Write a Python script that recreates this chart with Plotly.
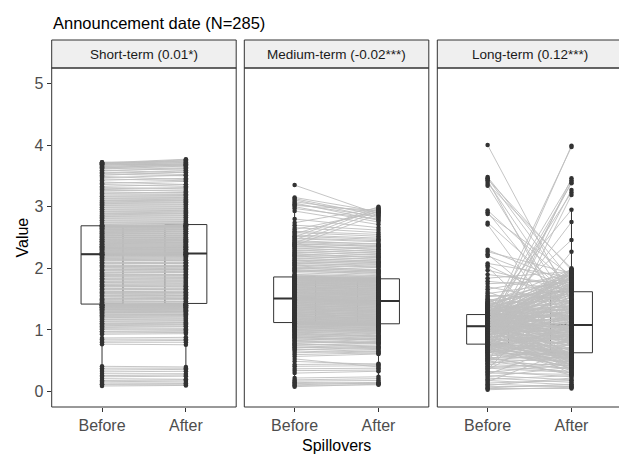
import numpy as np
import plotly.graph_objects as go

# ---------------------------------------------------------------------------
# Data: paired observations (same firm, before vs. after the announcement)
# ---------------------------------------------------------------------------
facet_labels = ["Short-term (0.01*)", "Medium-term (-0.02***)", "Long-term (0.12***)"]
period_labels = ["Before", "After"]
y_ticks = [0, 1, 2, 3, 4, 5]

short_before = [
    0.09, 0.11, 0.12, 0.14, 0.16, 0.18, 0.21, 0.24, 0.26, 0.29,
    0.32, 0.35, 0.38, 0.41, 0.77, 0.80, 0.82, 0.85, 0.87, 0.93,
    0.95, 0.97, 0.98, 1.01, 1.02, 1.04, 1.06, 1.07, 1.09, 1.10,
    1.11, 1.13, 1.14, 1.16, 1.17, 1.18, 1.20, 1.21, 1.22, 1.23,
    1.24, 1.25, 1.27, 1.28, 1.28, 1.29, 1.30, 1.31, 1.32, 1.33,
    1.33, 1.34, 1.34, 1.35, 1.36, 1.36, 1.37, 1.37, 1.38, 1.38,
    1.39, 1.39, 1.40, 1.40, 1.40, 1.41, 1.41, 1.41, 1.41, 1.42,
    1.42, 1.42, 1.44, 1.45, 1.46, 1.48, 1.49, 1.50, 1.51, 1.52,
    1.54, 1.55, 1.56, 1.57, 1.59, 1.60, 1.61, 1.62, 1.63, 1.65,
    1.66, 1.67, 1.68, 1.70, 1.71, 1.72, 1.73, 1.74, 1.76, 1.77,
    1.78, 1.79, 1.81, 1.82, 1.83, 1.84, 1.86, 1.87, 1.88, 1.89,
    1.90, 1.92, 1.93, 1.94, 1.96, 1.97, 1.98, 1.99, 2.01, 2.02,
    2.03, 2.04, 2.05, 2.07, 2.08, 2.09, 2.10, 2.12, 2.13, 2.14,
    2.15, 2.16, 2.17, 2.18, 2.19, 2.20, 2.21, 2.21, 2.22, 2.22,
    2.23, 2.23, 2.23, 2.24, 2.24, 2.25, 2.26, 2.26, 2.27, 2.28,
    2.28, 2.29, 2.30, 2.30, 2.31, 2.32, 2.32, 2.33, 2.34, 2.34,
    2.35, 2.36, 2.36, 2.37, 2.38, 2.39, 2.39, 2.40, 2.41, 2.41,
    2.42, 2.43, 2.44, 2.44, 2.45, 2.46, 2.47, 2.47, 2.48, 2.49,
    2.50, 2.50, 2.51, 2.52, 2.53, 2.53, 2.54, 2.55, 2.56, 2.56,
    2.57, 2.58, 2.59, 2.59, 2.60, 2.61, 2.62, 2.62, 2.63, 2.64,
    2.64, 2.65, 2.66, 2.66, 2.67, 2.67, 2.68, 2.68, 2.69, 2.69,
    2.69, 2.69, 2.69, 2.69, 2.71, 2.72, 2.74, 2.75, 2.77, 2.78,
    2.80, 2.81, 2.83, 2.84, 2.86, 2.87, 2.89, 2.90, 2.92, 2.93,
    2.95, 2.96, 2.98, 2.99, 3.01, 3.02, 3.04, 3.05, 3.07, 3.08,
    3.10, 3.11, 3.13, 3.14, 3.16, 3.17, 3.19, 3.21, 3.22, 3.24,
    3.26, 3.28, 3.29, 3.31, 3.33, 3.36, 3.38, 3.40, 3.43, 3.45,
    3.47, 3.49, 3.51, 3.53, 3.54, 3.56, 3.58, 3.59, 3.61, 3.62,
    3.63, 3.64, 3.65, 3.66, 3.67, 3.68, 3.69, 3.69, 3.70, 3.70,
    3.70, 3.71, 3.71, 3.72, 3.72,
]

short_after = [
    0.10, 0.11, 0.13, 0.14, 0.17, 0.19, 0.20, 0.25, 0.27, 0.29,
    0.33, 0.36, 0.38, 0.40, 0.76, 0.80, 0.83, 0.85, 0.88, 0.94,
    0.96, 0.97, 0.99, 1.02, 1.01, 1.05, 1.06, 1.08, 1.09, 1.11,
    1.12, 1.13, 1.15, 1.16, 1.18, 1.18, 1.21, 1.21, 1.23, 1.23,
    1.25, 1.25, 1.27, 1.29, 1.28, 1.30, 1.30, 1.32, 1.32, 1.34,
    1.33, 1.35, 1.34, 1.36, 1.36, 1.37, 1.37, 1.38, 1.38, 1.39,
    1.39, 1.40, 1.40, 1.41, 1.40, 1.42, 1.41, 1.42, 1.41, 1.43,
    1.42, 1.43, 1.44, 1.46, 1.46, 1.49, 1.49, 1.51, 1.51, 1.53,
    1.54, 1.56, 1.56, 1.58, 1.59, 1.61, 1.61, 1.63, 1.63, 1.66,
    1.66, 1.68, 1.68, 1.71, 1.71, 1.73, 1.73, 1.75, 1.76, 1.78,
    1.78, 1.80, 1.81, 1.83, 1.83, 1.85, 1.86, 1.88, 1.88, 1.90,
    1.90, 1.93, 1.93, 1.95, 1.96, 1.98, 1.98, 2.00, 2.01, 2.03,
    2.03, 2.05, 2.05, 2.08, 2.08, 2.10, 2.10, 2.13, 2.13, 2.15,
    2.15, 2.17, 2.17, 2.19, 2.19, 2.21, 2.21, 2.22, 2.22, 2.23,
    2.23, 2.24, 2.23, 2.25, 2.24, 2.26, 2.26, 2.27, 2.27, 2.29,
    2.28, 2.30, 2.30, 2.31, 2.31, 2.33, 2.32, 2.34, 2.34, 2.35,
    2.35, 2.37, 2.36, 2.38, 2.38, 2.40, 2.39, 2.41, 2.41, 2.42,
    2.42, 2.44, 2.44, 2.45, 2.45, 2.47, 2.47, 2.48, 2.48, 2.50,
    2.50, 2.51, 2.51, 2.53, 2.53, 2.54, 2.54, 2.56, 2.56, 2.57,
    2.57, 2.59, 2.59, 2.60, 2.60, 2.62, 2.62, 2.63, 2.63, 2.65,
    2.64, 2.66, 2.66, 2.67, 2.67, 2.68, 2.68, 2.69, 2.69, 2.70,
    2.69, 2.70, 2.69, 2.71, 2.72, 2.73, 2.74, 2.76, 2.77, 2.79,
    2.80, 2.82, 2.83, 2.85, 2.86, 2.88, 2.89, 2.91, 2.92, 2.94,
    2.95, 2.97, 2.98, 3.00, 3.01, 3.03, 3.04, 3.06, 3.07, 3.09,
    3.10, 3.12, 3.13, 3.15, 3.16, 3.18, 3.19, 3.20, 3.23, 3.22,
    3.27, 3.25, 3.31, 3.29, 3.36, 3.33, 3.41, 3.36, 3.46, 3.42,
    3.51, 3.44, 3.56, 3.50, 3.58, 3.52, 3.62, 3.55, 3.66, 3.59,
    3.68, 3.61, 3.70, 3.64, 3.72, 3.66, 3.74, 3.68, 3.75, 3.67,
    3.76, 3.69, 3.77, 3.71, 3.73,
]

medium_before = [
    0.08, 0.10, 0.11, 0.13, 0.15, 0.17, 0.19, 0.22, 0.30, 0.34,
    0.37, 0.41, 0.44, 0.49, 0.53, 0.57, 0.60, 0.63, 0.66, 0.68,
    0.69, 0.71, 0.72, 0.74, 0.75, 0.77, 0.78, 0.79, 0.81, 0.82,
    0.83, 0.84, 0.86, 0.87, 0.88, 0.89, 0.90, 0.91, 0.92, 0.93,
    0.94, 0.95, 0.96, 0.97, 0.98, 0.99, 1.00, 1.00, 1.01, 1.02,
    1.03, 1.04, 1.04, 1.05, 1.06, 1.06, 1.07, 1.08, 1.08, 1.09,
    1.09, 1.10, 1.10, 1.10, 1.11, 1.11, 1.11, 1.12, 1.12, 1.12,
    1.12, 1.12, 1.12, 1.13, 1.14, 1.14, 1.15, 1.15, 1.16, 1.17,
    1.17, 1.18, 1.18, 1.19, 1.20, 1.20, 1.21, 1.22, 1.22, 1.23,
    1.23, 1.24, 1.25, 1.25, 1.26, 1.26, 1.27, 1.28, 1.28, 1.29,
    1.29, 1.30, 1.31, 1.31, 1.32, 1.33, 1.33, 1.34, 1.34, 1.35,
    1.36, 1.36, 1.37, 1.37, 1.38, 1.39, 1.39, 1.40, 1.40, 1.41,
    1.42, 1.42, 1.43, 1.43, 1.44, 1.45, 1.45, 1.46, 1.46, 1.47,
    1.48, 1.48, 1.49, 1.49, 1.50, 1.50, 1.50, 1.51, 1.51, 1.51,
    1.51, 1.51, 1.51, 1.52, 1.52, 1.53, 1.53, 1.54, 1.54, 1.55,
    1.55, 1.56, 1.56, 1.57, 1.57, 1.58, 1.59, 1.59, 1.60, 1.60,
    1.61, 1.61, 1.62, 1.62, 1.63, 1.64, 1.64, 1.65, 1.65, 1.66,
    1.66, 1.67, 1.68, 1.68, 1.69, 1.69, 1.70, 1.70, 1.71, 1.72,
    1.72, 1.73, 1.73, 1.74, 1.74, 1.75, 1.76, 1.76, 1.77, 1.77,
    1.78, 1.78, 1.79, 1.80, 1.80, 1.81, 1.81, 1.82, 1.82, 1.83,
    1.83, 1.84, 1.84, 1.85, 1.85, 1.85, 1.86, 1.86, 1.86, 1.86,
    1.86, 1.86, 1.86, 1.86, 1.86, 1.86, 1.87, 1.88, 1.89, 1.90,
    1.93, 1.95, 1.96, 1.97, 1.98, 2.00, 2.01, 2.02, 2.04, 2.05,
    2.06, 2.08, 2.09, 2.10, 2.12, 2.13, 2.14, 2.16, 2.17, 2.19,
    2.20, 2.21, 2.23, 2.24, 2.26, 2.27, 2.29, 2.30, 2.32, 2.33,
    2.35, 2.36, 2.37, 2.38, 2.39, 2.40, 2.41, 2.42, 2.43, 2.45,
    2.46, 2.48, 2.49, 2.51, 2.52, 2.54, 2.56, 2.58, 2.60, 2.63,
    2.66, 2.70, 2.74, 2.80, 2.93, 2.97, 3.00, 3.02, 3.04, 3.06,
    3.08, 3.11, 3.13, 3.15, 3.35,
]

medium_after = [
    0.12, 0.11, 0.14, 0.15, 0.13, 0.18, 0.21, 0.24, 0.33, 0.35,
    0.38, 0.42, 0.45, 0.44, 0.40, 0.61, 0.63, 0.66, 0.62, 0.70,
    0.65, 0.73, 0.68, 0.71, 0.78, 0.74, 0.72, 0.80, 0.77, 0.79,
    0.80, 0.86, 0.81, 0.84, 0.85, 0.83, 0.88, 0.86, 0.89, 0.90,
    0.91, 0.90, 0.94, 0.92, 0.95, 0.96, 0.97, 0.99, 0.98, 1.00,
    1.01, 1.00, 1.03, 1.02, 1.04, 1.05, 1.03, 1.06, 1.07, 1.06,
    1.08, 1.07, 1.09, 1.08, 1.10, 1.09, 1.08, 1.10, 1.09, 1.11,
    1.10, 1.08, 1.11, 1.09, 1.12, 1.10, 1.13, 1.11, 1.12, 1.14,
    1.13, 1.15, 1.14, 1.16, 1.15, 1.17, 1.18, 1.17, 1.19, 1.18,
    1.20, 1.19, 1.21, 1.22, 1.21, 1.23, 1.22, 1.24, 1.25, 1.24,
    1.26, 1.25, 1.27, 1.28, 1.27, 1.29, 1.30, 1.29, 1.31, 1.30,
    1.32, 1.31, 1.33, 1.34, 1.33, 1.35, 1.36, 1.35, 1.37, 1.36,
    1.38, 1.39, 1.38, 1.40, 1.41, 1.40, 1.42, 1.41, 1.43, 1.44,
    1.42, 1.43, 1.44, 1.43, 1.45, 1.44, 1.45, 1.46, 1.45, 1.46,
    1.47, 1.45, 1.48, 1.46, 1.49, 1.47, 1.50, 1.48, 1.51, 1.50,
    1.52, 1.51, 1.53, 1.54, 1.52, 1.55, 1.56, 1.54, 1.57, 1.56,
    1.58, 1.57, 1.59, 1.60, 1.58, 1.61, 1.60, 1.62, 1.63, 1.61,
    1.64, 1.63, 1.65, 1.66, 1.64, 1.67, 1.66, 1.68, 1.67, 1.69,
    1.70, 1.69, 1.71, 1.70, 1.72, 1.73, 1.72, 1.74, 1.73, 1.75,
    1.76, 1.74, 1.77, 1.76, 1.78, 1.77, 1.79, 1.78, 1.80, 1.79,
    1.79, 1.80, 1.78, 1.81, 1.80, 1.79, 1.81, 1.80, 1.82, 1.81,
    1.82, 1.81, 1.83, 1.82, 1.84, 1.83, 1.85, 1.84, 1.86, 1.87,
    1.88, 1.92, 1.90, 1.94, 1.93, 1.96, 1.95, 1.98, 1.97, 2.01,
    2.02, 2.05, 2.03, 2.08, 2.06, 2.10, 2.09, 2.12, 2.11, 2.15,
    2.14, 2.18, 2.19, 2.17, 2.22, 2.21, 2.25, 2.24, 2.28, 2.27,
    2.31, 2.33, 2.88, 2.30, 2.36, 2.35, 2.93, 2.37, 2.40, 2.39,
    2.97, 2.43, 2.45, 3.00, 2.47, 2.49, 2.95, 2.52, 2.55, 2.91,
    2.58, 2.62, 2.98, 2.66, 2.71, 2.80, 2.75, 2.94, 2.84, 2.78,
    2.90, 2.82, 2.86, 2.92, 2.88,
]

long_before = [
    0.03, 0.05, 0.06, 0.08, 0.10, 0.12, 0.14, 0.16, 0.18, 0.20,
    0.22, 0.24, 0.26, 0.28, 0.30, 0.31, 0.33, 0.35, 0.36, 0.38,
    0.39, 0.41, 0.42, 0.44, 0.45, 0.46, 0.48, 0.49, 0.50, 0.51,
    0.52, 0.53, 0.54, 0.55, 0.56, 0.57, 0.58, 0.59, 0.60, 0.61,
    0.62, 0.63, 0.64, 0.64, 0.65, 0.66, 0.67, 0.67, 0.68, 0.69,
    0.69, 0.70, 0.71, 0.71, 0.72, 0.72, 0.73, 0.73, 0.74, 0.74,
    0.75, 0.75, 0.75, 0.76, 0.76, 0.76, 0.77, 0.77, 0.77, 0.77,
    0.77, 0.77, 0.78, 0.78, 0.79, 0.80, 0.80, 0.81, 0.82, 0.82,
    0.83, 0.84, 0.84, 0.85, 0.86, 0.86, 0.87, 0.88, 0.88, 0.89,
    0.90, 0.90, 0.91, 0.91, 0.92, 0.93, 0.93, 0.94, 0.94, 0.95,
    0.95, 0.96, 0.96, 0.97, 0.97, 0.98, 0.98, 0.99, 0.99, 1.00,
    1.00, 1.00, 1.01, 1.01, 1.01, 1.02, 1.02, 1.02, 1.03, 1.03,
    1.03, 1.03, 1.04, 1.04, 1.04, 1.04, 1.04, 1.05, 1.05, 1.05,
    1.05, 1.05, 1.05, 1.05, 1.05, 1.05, 1.06, 1.06, 1.06, 1.06,
    1.06, 1.06, 1.06, 1.07, 1.07, 1.07, 1.07, 1.08, 1.08, 1.08,
    1.08, 1.09, 1.09, 1.09, 1.10, 1.10, 1.10, 1.11, 1.11, 1.11,
    1.12, 1.12, 1.12, 1.13, 1.13, 1.13, 1.14, 1.14, 1.14, 1.15,
    1.15, 1.15, 1.16, 1.16, 1.16, 1.17, 1.17, 1.17, 1.18, 1.18,
    1.18, 1.19, 1.19, 1.19, 1.20, 1.20, 1.20, 1.21, 1.21, 1.21,
    1.22, 1.22, 1.22, 1.22, 1.23, 1.23, 1.23, 1.23, 1.23, 1.24,
    1.24, 1.24, 1.24, 1.24, 1.24, 1.24, 1.25, 1.25, 1.25, 1.25,
    1.25, 1.25, 1.25, 1.25, 1.26, 1.26, 1.27, 1.27, 1.28, 1.28,
    1.29, 1.29, 1.30, 1.30, 1.31, 1.31, 1.32, 1.32, 1.33, 1.33,
    1.34, 1.34, 1.35, 1.35, 1.36, 1.36, 1.37, 1.38, 1.38, 1.39,
    1.39, 1.40, 1.41, 1.41, 1.42, 1.43, 1.43, 1.44, 1.45, 1.46,
    1.47, 1.49, 1.50, 1.52, 1.54, 1.56, 1.59, 1.62, 1.66, 1.70,
    1.75, 1.79, 1.84, 1.90, 1.97, 2.02, 2.05, 2.08, 2.20, 2.23,
    2.27, 2.30, 2.71, 2.74, 2.88, 2.91, 2.94, 3.34, 3.37, 3.40,
    3.43, 3.45, 3.46, 3.48, 4.00,
]

long_after = [
    0.07, 0.05, 0.12, 0.09, 0.22, 0.08, 0.18, 0.68, 0.11, 0.26,
    0.15, 0.40, 0.19, 0.78, 0.28, 0.44, 0.24, 1.12, 1.72, 0.31,
    0.46, 0.33, 0.88, 0.38, 3.19, 0.57, 0.42, 1.15, 0.30, 0.61,
    0.49, 0.72, 0.36, 0.55, 0.95, 0.27, 3.46, 0.62, 0.48, 1.30,
    2.27, 0.58, 0.41, 0.83, 0.53, 0.60, 1.04, 0.45, 0.66, 0.39,
    0.56, 3.27, 0.50, 0.69, 1.42, 0.34, 0.91, 0.59, 0.47, 0.75,
    0.62, 0.81, 1.22, 0.43, 0.98, 0.54, 1.55, 0.61, 0.70, 0.37,
    0.64, 1.68, 0.52, 0.86, 1.25, 0.63, 3.40, 0.90, 0.44, 1.48,
    0.93, 0.58, 1.36, 0.79, 1.88, 0.71, 0.40, 1.09, 0.97, 0.57,
    1.50, 0.84, 0.60, 1.63, 3.99, 0.76, 1.02, 0.29, 1.19, 0.88,
    0.67, 2.75, 1.31, 0.51, 0.99, 1.84, 0.74, 1.46, 0.56, 1.05,
    1.92, 0.82, 0.47, 1.13, 0.95, 1.71, 0.61, 1.58, 1.17, 3.38,
    0.89, 1.40, 0.55, 1.96, 0.78, 1.08, 0.35, 1.65, 1.01, 0.92,
    0.73, 1.22, 0.49, 1.75, 0.96, 0.62, 1.54, 0.85, 1.99, 0.43,
    1.12, 0.74, 1.66, 0.95, 1.31, 0.48, 1.83, 1.05, 1.20, 0.87,
    1.44, 3.97, 0.98, 1.27, 1.74, 0.66, 1.10, 1.90, 0.81, 1.37,
    0.58, 1.18, 1.62, 1.03, 1.49, 3.23, 0.90, 1.29, 1.77, 0.50,
    1.86, 0.77, 1.24, 3.43, 1.14, 0.94, 1.69, 1.35, 0.42, 1.57,
    1.01, 1.93, 1.16, 0.68, 1.52, 1.80, 0.53, 1.26, 0.86, 2.46,
    1.33, 0.92, 1.71, 1.21, 0.61, 1.06, 1.64, 1.41, 0.79, 1.97,
    0.97, 1.60, 1.23, 0.45, 1.87, 1.11, 0.83, 1.39, 1.68, 1.02,
    1.18, 1.72, 0.91, 1.34, 1.85, 1.29, 0.60, 1.63, 1.47, 0.87,
    1.76, 1.39, 1.04, 1.91, 1.27, 2.95, 1.56, 0.80, 1.69, 1.20,
    1.32, 0.88, 1.79, 1.43, 1.65, 0.52, 1.94, 0.97, 1.36, 1.82,
    1.58, 1.89, 0.99, 1.30, 1.73, 1.48, 0.76, 1.98, 1.21, 1.67,
    1.83, 0.94, 1.35, 0.57, 1.63, 1.51, 1.78, 1.12, 1.90, 1.44,
    1.81, 1.66, 1.95, 1.73, 1.64, 0.72, 1.40, 1.85, 1.68, 1.10,
    1.92, 1.75, 0.85, 1.52, 1.88, 1.25, 1.70, 1.15, 2.00, 1.38,
    0.95, 1.97, 1.62, 1.80, 1.45,
]

facets = [
    (short_before, short_after),
    (medium_before, medium_after),
    (long_before, long_after),
]

# ---------------------------------------------------------------------------
# Page geometry (pixels)
# ---------------------------------------------------------------------------
W, H = 619, 454
FONT = "Liberation Sans, Arial, Helvetica, sans-serif"
DARK = "#333333"
TICK_TEXT = "#4D4D4D"

PANEL_LEFT = [51.7, 244.3, 437.3]
PANEL_W = 184.5
PANEL_TOP, PANEL_BOTTOM = 68.0, 407.0
STRIP_TOP = 40.0
X_RANGE = (0.4, 2.6)
Y_RANGE = (-0.25, 5.25)
BOX_WIDTH = 0.5


def fx(px):
    return px / W


def fy(py):
    return 1 - py / H


def box_stats(values):
    """Quartiles and Tukey whisker ends (1.5 x IQR rule)."""
    v = np.asarray(values, dtype=float)
    q1, med, q3 = np.percentile(v, [25, 50, 75])
    iqr = q3 - q1
    lo = v[v >= q1 - 1.5 * iqr].min()
    hi = v[v <= q3 + 1.5 * iqr].max()
    return q1, med, q3, lo, hi


fig = go.Figure()
axes = {}
shapes = []
annotations = []
units_per_px = (X_RANGE[1] - X_RANGE[0]) / PANEL_W

for i, (label, (before, after)) in enumerate(zip(facet_labels, facets)):
    k = "" if i == 0 else str(i + 1)
    xa, ya = "x" + k, "y" + k
    left = PANEL_LEFT[i]
    right_full = left + PANEL_W
    right = min(right_full, W)
    x_hi = X_RANGE[0] + (right - left) * units_per_px

    axes["xaxis" + k] = dict(
        domain=[fx(left), fx(right)], range=[X_RANGE[0], x_hi], anchor=ya,
        tickmode="array", tickvals=[1, 2], ticktext=period_labels,
        ticks="outside", ticklen=4, tickwidth=1, tickcolor=DARK,
        tickfont=dict(family=FONT, size=16, color=TICK_TEXT),
        showgrid=False, zeroline=False, showline=False, fixedrange=True,
    )
    axes["yaxis" + k] = dict(
        domain=[fy(PANEL_BOTTOM), fy(PANEL_TOP)], range=list(Y_RANGE), anchor=xa,
        tickmode="array", tickvals=y_ticks,
        ticks="outside" if i == 0 else "", ticklen=4, tickwidth=1, tickcolor=DARK,
        showticklabels=(i == 0),
        tickfont=dict(family=FONT, size=16, color=TICK_TEXT),
        showgrid=False, zeroline=False, showline=False, fixedrange=True,
    )

    # boxplots sit underneath the paired lines
    for pos, vals in ((1, before), (2, after)):
        q1, med, q3, lo, hi = box_stats(vals)
        fig.add_trace(go.Box(
            x=[pos], q1=[q1], median=[med], q3=[q3],
            lowerfence=[lo], upperfence=[hi],
            width=BOX_WIDTH, whiskerwidth=0, boxpoints=False,
            fillcolor="white", line=dict(color=DARK, width=1),
            xaxis=xa, yaxis=ya, showlegend=False, hoverinfo="skip",
        ))
        fig.add_trace(go.Scatter(
            x=[pos - BOX_WIDTH / 2, pos + BOX_WIDTH / 2], y=[med, med],
            mode="lines", line=dict(color=DARK, width=2),
            xaxis=xa, yaxis=ya, showlegend=False, hoverinfo="skip",
        ))

    # one grey segment per observation, joining its two periods
    seg_x, seg_y = [], []
    for b, a in zip(before, after):
        seg_x += [1, 2, None]
        seg_y += [b, a, None]
    fig.add_trace(go.Scatter(
        x=seg_x, y=seg_y, mode="lines",
        line=dict(color="#BEBEBE", width=0.9),
        xaxis=xa, yaxis=ya, showlegend=False, hoverinfo="skip",
    ))

    fig.add_trace(go.Scatter(
        x=[1] * len(before) + [2] * len(after),
        y=list(before) + list(after),
        mode="markers", marker=dict(size=4.5, color=DARK),
        xaxis=xa, yaxis=ya, showlegend=False, hoverinfo="skip",
    ))

    # facet strip and panel frame
    shapes.append(dict(
        type="rect", xref="paper", yref="paper",
        x0=fx(left), x1=fx(right_full), y0=fy(PANEL_TOP), y1=fy(STRIP_TOP),
        fillcolor="#EFEFEF", line=dict(color=DARK, width=1), layer="below",
    ))
    shapes.append(dict(
        type="rect", xref="paper", yref="paper",
        x0=fx(left), x1=fx(right_full), y0=fy(PANEL_BOTTOM), y1=fy(PANEL_TOP),
        fillcolor="rgba(0,0,0,0)", line=dict(color=DARK, width=1), layer="above",
    ))
    annotations.append(dict(
        text=label, xref="paper", yref="paper",
        x=fx(left + PANEL_W / 2), y=fy((STRIP_TOP + PANEL_TOP) / 2),
        xanchor="center", yanchor="middle", showarrow=False,
        font=dict(family=FONT, size=13.5, color="#1A1A1A"),
    ))

annotations += [
    dict(text="Announcement date (N=285)", xref="paper", yref="paper",
         x=fx(51.0), y=fy(22.5), xanchor="left", yanchor="middle",
         showarrow=False, font=dict(family=FONT, size=16.5, color="black")),
    dict(text="Value", xref="paper", yref="paper",
         x=fx(22), y=fy((PANEL_TOP + PANEL_BOTTOM) / 2), textangle=-90,
         xanchor="center", yanchor="middle",
         showarrow=False, font=dict(family=FONT, size=16, color="black")),
    dict(text="Spillovers", xref="paper", yref="paper",
         x=fx(PANEL_LEFT[1] + PANEL_W / 2), y=fy(445), xanchor="center",
         yanchor="middle", showarrow=False,
         font=dict(family=FONT, size=16, color="black")),
]

fig.update_layout(
    width=W, height=H, autosize=False,
    margin=dict(l=0, r=0, t=0, b=0),
    paper_bgcolor="white", plot_bgcolor="white",
    boxmode="overlay", showlegend=False,
    shapes=shapes, annotations=annotations,
    font=dict(family=FONT),
    **axes,
)

fig.write_html("out.html")
